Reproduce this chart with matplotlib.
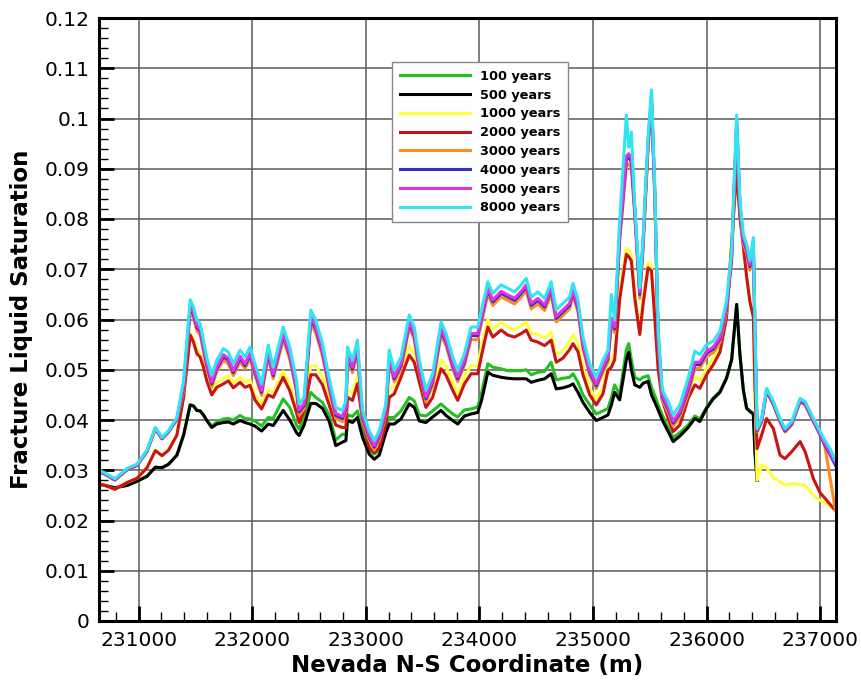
import matplotlib
matplotlib.use('Agg')
import matplotlib.pyplot as plt
from matplotlib.ticker import MultipleLocator, FuncFormatter

plt.rcParams['font.family'] = ['DejaVu Sans']

# Nevada N-S coordinate (m), shared by all curves
x_coord = [230650, 230700, 230790, 230900, 230985, 231073, 231146, 231205, 231263, 231336,
           231395, 231453, 231482, 231512, 231541, 231570, 231599, 231643, 231687, 231746,
           231789, 231833, 231892, 231936, 231980, 232023, 232082, 232140, 232184, 232272,
           232330, 232389, 232412, 232456, 232515, 232559, 232618, 232676, 232735, 232794,
           232824, 232838, 232882, 232926, 232971, 233029, 233074, 233118, 233176, 233206,
           233250, 233309, 233382, 233426, 233471, 233529, 233588, 233662, 233706, 233765,
           233809, 233868, 233926, 233985, 234020, 234074, 234118, 234191, 234250, 234309,
           234368, 234412, 234456, 234515, 234574, 234632, 234676, 234735, 234794, 234824,
           234868, 234912, 234971, 235029, 235088, 235132, 235162, 235191, 235235, 235294,
           235315, 235338, 235368, 235412, 235441, 235485, 235515, 235545, 235574, 235610,
           235662, 235706, 235765, 235838, 235897, 235941, 236000, 236059, 236118, 236176,
           236221, 236265, 236294, 236324, 236353, 236382, 236412, 236426, 236445, 236485,
           236529, 236588, 236647, 236691, 236750, 236824, 236868, 236941, 237000, 237040,
           237088, 237135]

# saturation values, in units of 1e-3
sat_100 = [27.2, 27.0, 26.5, 27.0, 27.8, 28.8, 30.6, 30.5, 31.2, 33.0,
           37.0, 43.0, 42.8, 41.9, 41.8, 41.0, 39.9, 38.8, 39.6, 40.2,
           40.3, 40.0, 40.9, 40.3, 40.2, 39.8, 38.8, 40.5, 40.3, 44.2,
           42.5, 39.0, 38.2, 40.5, 45.5, 44.5, 43.5, 41.0, 36.0, 37.2,
           37.0, 41.0, 40.7, 41.8, 37.5, 34.0, 33.2, 34.0, 38.5, 40.5,
           40.5, 41.8, 44.5, 43.8, 41.0, 40.8, 41.8, 43.2, 42.3, 41.2,
           40.6, 42.0, 42.2, 42.6, 45.5, 51.2, 50.5, 50.2, 49.8, 49.8,
           49.8, 50.0, 49.0, 49.5, 49.7, 51.5, 48.0, 48.3, 48.5, 49.2,
           47.5, 45.0, 43.0, 41.2, 41.8, 42.3, 44.5, 47.0, 45.0, 54.0,
           55.2, 52.0, 48.5, 48.0, 48.5, 48.8, 46.5, 44.8, 43.0, 41.0,
           38.5, 36.5, 37.5, 39.0, 40.8, 40.2, 42.5, 44.4, 45.7, 48.4,
           52.0, 63.0, 53.0, 46.0, 42.4, 41.8, 41.3, 33.8, 28.0]

sat_500 = [27.2, 27.0, 26.5, 27.0, 27.8, 28.8, 30.6, 30.5, 31.2, 33.0,
           37.0, 43.0, 42.8, 41.9, 41.8, 41.0, 39.9, 38.5, 39.2, 39.5,
           39.6, 39.2, 39.9, 39.5, 39.2, 38.8, 37.8, 39.2, 38.9, 41.9,
           40.0, 37.5, 36.9, 39.0, 43.3, 43.3, 42.3, 39.8, 34.9, 35.6,
           35.9, 39.9, 39.5, 40.5, 36.5, 33.2, 32.2, 33.0, 37.5, 39.2,
           39.2, 40.2, 43.2, 42.5, 39.8, 39.5, 40.6, 41.9, 40.9, 39.9,
           39.2, 40.8, 41.2, 41.5, 44.0, 49.5, 48.9, 48.5, 48.3, 48.2,
           48.2, 48.2, 47.5, 47.9, 48.2, 49.2, 46.2, 46.4, 46.8, 47.2,
           45.5, 43.5, 41.5, 39.9, 40.5, 41.0, 43.0, 45.5, 44.0, 52.0,
           53.5, 50.0, 47.0, 46.5, 47.3, 47.7, 45.0, 43.5, 42.0, 40.0,
           37.7, 35.7, 36.8, 38.5, 40.3, 39.7, 42.3, 44.2, 45.5, 48.3,
           52.0, 63.0, 53.0, 46.0, 42.3, 41.7, 41.2, 33.7, 28.0]

sat_1000 = [27.3, 27.0, 26.2, 27.6, 28.4, 30.5, 34.0, 33.0, 34.1, 37.2,
            44.8, 57.3, 56.0, 53.8, 53.2, 51.2, 48.6, 45.9, 47.5, 48.2,
            48.8, 47.4, 48.5, 47.5, 47.9, 45.0, 43.2, 46.0, 45.5, 49.7,
            47.0, 42.7, 40.6, 43.0, 50.8, 50.8, 48.6, 44.4, 40.2, 39.7,
            39.8, 46.0, 45.3, 48.8, 41.2, 35.6, 34.5, 35.6, 40.5, 46.0,
            46.8, 50.0, 54.8, 53.2, 49.0, 43.8, 46.0, 52.0, 50.6, 47.3,
            45.2, 48.7, 50.8, 50.8, 54.8, 60.0, 58.0, 59.5, 58.4, 58.0,
            58.8, 59.5, 57.3, 57.0, 56.3, 57.5, 53.0, 53.8, 55.6, 57.0,
            55.2, 50.5, 46.3, 44.2, 46.5, 51.2, 52.0, 53.5, 65.5, 74.2,
            73.7, 72.8, 65.5, 58.0, 64.2, 71.3, 70.7, 61.0, 51.0, 45.0,
            41.3, 38.8, 40.2, 45.8, 48.5, 47.8, 50.3, 52.2, 54.5, 61.0,
            75.5, 89.9, 80.6, 74.8, 68.8, 63.8, 60.8, 45.0, 28.0, 31.0,
            30.5, 28.5, 27.7, 27.0, 27.3, 27.2, 27.0, 25.0, 24.0, 23.5,
            22.8, 22.0]

sat_2000 = [27.3, 27.0, 26.2, 27.6, 28.4, 30.5, 33.9, 32.9, 34.0, 37.0,
            44.5, 56.9, 55.5, 53.2, 52.5, 50.5, 47.8, 45.0, 46.5, 47.2,
            47.8, 46.4, 47.5, 46.5, 46.9, 44.0, 42.2, 45.0, 44.5, 48.5,
            45.8, 41.5, 39.5, 41.8, 49.0, 49.0, 47.0, 43.0, 39.0, 38.5,
            38.5, 44.5, 43.9, 47.2, 39.9, 34.5, 33.5, 34.5, 39.2, 44.5,
            45.2, 48.5, 52.9, 51.5, 47.5, 42.5, 44.5, 50.2, 48.9, 45.9,
            43.9, 47.2, 49.2, 49.2, 53.0, 58.5, 56.5, 57.9, 56.9, 56.5,
            57.2, 57.9, 55.9, 55.5, 54.8, 55.9, 51.5, 52.3, 54.0, 55.2,
            53.6, 49.0, 45.0, 43.0, 45.2, 49.9, 50.5, 52.0, 64.0, 73.0,
            72.5, 71.7, 64.3, 57.0, 63.0, 70.3, 69.7, 60.0, 50.0, 44.0,
            40.3, 37.7, 39.0, 44.3, 47.0, 46.3, 49.0, 51.0, 53.5, 60.3,
            75.0, 89.7, 80.3, 74.5, 68.5, 63.5, 60.5, 47.0, 34.3, 37.0,
            40.3, 38.3, 33.0, 32.3, 33.7, 35.7, 33.7, 28.3, 25.5, 24.5,
            23.2, 22.0]

sat_3000 = [29.7, 29.2, 28.0, 30.1, 30.9, 33.7, 38.2, 36.2, 37.6, 40.0,
            45.8, 61.8, 60.3, 57.7, 57.0, 53.7, 50.3, 46.6, 49.6, 51.9,
            51.2, 48.8, 51.6, 50.2, 52.2, 48.9, 44.9, 52.6, 48.2, 56.0,
            52.1, 45.6, 41.0, 42.2, 59.3, 57.3, 52.8, 46.2, 40.3, 39.7,
            41.6, 51.8, 49.4, 53.3, 39.8, 36.0, 34.0, 36.0, 41.0, 51.5,
            47.6, 50.2, 58.3, 56.0, 49.6, 43.6, 46.9, 56.9, 54.8, 50.2,
            47.6, 50.9, 56.0, 56.0, 59.5, 65.0, 62.8, 64.5, 63.8, 63.1,
            64.5, 65.7, 62.1, 63.1, 61.8, 65.0, 59.5, 60.8, 62.1, 64.7,
            61.5, 54.2, 48.9, 46.2, 49.6, 51.6, 58.7, 57.4, 75.5, 90.5,
            91.0, 90.2, 80.5, 64.2, 74.0, 94.0, 103.0, 83.5, 55.5, 44.0,
            41.5, 38.8, 40.6, 45.2, 50.2, 50.3, 52.6, 53.4, 55.4, 61.4,
            71.6, 98.0, 81.8, 75.1, 73.1, 69.8, 74.4, 57.1, 37.6, 39.6,
            45.6, 43.0, 39.6, 37.6, 39.0, 43.6, 43.0, 39.6, 37.3, 35.0,
            28.5, 22.0]

sat_4000 = [29.8, 29.3, 28.1, 30.2, 31.0, 33.8, 38.3, 36.3, 37.7, 40.2,
            46.5, 62.4, 61.0, 58.4, 57.7, 54.4, 51.0, 47.2, 50.2, 52.6,
            51.9, 49.4, 52.3, 50.8, 52.9, 49.5, 45.5, 53.3, 48.8, 56.8,
            52.8, 46.2, 41.6, 42.9, 60.1, 58.1, 53.5, 46.8, 40.9, 40.3,
            42.2, 52.6, 50.1, 54.1, 40.4, 36.6, 34.6, 36.6, 41.6, 52.2,
            48.2, 50.8, 59.1, 56.8, 50.2, 44.2, 47.5, 57.7, 55.5, 50.8,
            48.2, 51.5, 56.8, 56.8, 60.3, 65.8, 63.5, 65.2, 64.5, 63.8,
            65.2, 66.5, 62.8, 63.8, 62.5, 65.8, 60.2, 61.5, 62.8, 65.5,
            62.2, 54.8, 49.5, 46.8, 50.2, 52.2, 59.8, 58.1, 76.5, 91.8,
            92.3, 91.3, 81.5, 65.0, 75.0, 94.8, 104.0, 84.5, 56.5, 44.6,
            42.1, 39.4, 41.3, 46.0, 51.0, 51.0, 53.3, 54.1, 56.1, 62.1,
            72.3, 99.0, 82.5, 75.8, 73.8, 70.5, 75.1, 57.8, 37.8, 39.8,
            45.8, 43.2, 39.8, 37.8, 39.2, 43.8, 43.2, 39.8, 37.0, 35.1,
            33.1, 31.0]

sat_5000 = [29.9, 29.4, 28.2, 30.3, 31.1, 33.9, 38.4, 36.4, 37.8, 40.3,
            46.9, 62.8, 61.4, 58.8, 58.1, 54.8, 51.4, 47.6, 50.6, 53.0,
            52.3, 49.8, 52.7, 51.2, 53.3, 49.9, 45.9, 53.7, 49.2, 57.2,
            53.2, 46.6, 42.0, 43.3, 60.5, 58.5, 53.9, 47.2, 41.3, 40.7,
            42.6, 53.0, 50.5, 54.5, 40.8, 36.9, 34.9, 36.9, 42.0, 52.6,
            48.6, 51.2, 59.5, 57.2, 50.6, 44.6, 47.9, 58.1, 55.9, 51.2,
            48.6, 51.9, 57.2, 57.2, 60.7, 66.2, 63.9, 65.6, 64.9, 64.2,
            65.6, 66.9, 63.2, 64.2, 62.9, 66.2, 60.6, 61.9, 63.2, 65.9,
            62.6, 55.2, 49.9, 47.2, 50.6, 52.6, 60.3, 58.5, 77.0, 92.5,
            93.0, 92.0, 82.0, 65.5, 75.5, 95.3, 104.5, 85.0, 57.0, 45.0,
            42.5, 39.8, 41.7, 46.5, 51.5, 51.5, 53.7, 54.5, 56.5, 62.5,
            72.7, 99.5, 82.9, 76.2, 74.2, 70.9, 75.5, 58.2, 38.0, 40.0,
            46.0, 43.4, 40.0, 38.0, 39.4, 44.0, 43.4, 40.0, 37.2, 35.4,
            33.5, 31.5]

sat_8000 = [30.0, 29.5, 28.3, 30.4, 31.2, 34.0, 38.5, 36.5, 37.9, 40.5,
            47.9, 63.9, 62.5, 59.9, 59.2, 55.9, 52.5, 48.9, 51.9, 54.2,
            53.5, 51.2, 53.9, 52.5, 54.5, 51.2, 47.2, 54.9, 50.5, 58.5,
            54.5, 47.9, 43.2, 44.5, 61.9, 59.9, 55.2, 48.5, 42.5, 41.9,
            43.9, 54.5, 51.9, 55.9, 41.9, 37.9, 35.9, 37.9, 43.2, 53.9,
            49.9, 52.5, 60.9, 58.5, 51.9, 45.9, 49.2, 59.5, 57.2, 52.5,
            49.9, 53.2, 58.5, 58.5, 62.0, 67.5, 65.2, 66.9, 66.2, 65.5,
            66.9, 68.2, 64.5, 65.5, 64.2, 67.5, 61.9, 63.2, 64.5, 67.2,
            63.9, 56.5, 51.2, 48.5, 51.9, 53.9, 65.0, 59.9, 79.7, 100.7,
            94.3, 97.3, 83.0, 66.3, 76.3, 96.3, 105.7, 86.0, 58.0, 46.0,
            43.7, 41.0, 43.0, 48.3, 53.7, 53.0, 55.0, 55.7, 57.7, 63.7,
            73.7, 100.7, 83.7, 77.0, 75.0, 71.7, 76.3, 59.0, 38.3, 40.3,
            46.3, 43.7, 40.3, 38.3, 39.7, 44.3, 43.7, 40.3, 37.7, 36.0,
            34.3, 32.0]

labels = ['100 years', '500 years', '1000 years', '2000 years',
          '3000 years', '4000 years', '5000 years', '8000 years']
series = [sat_100, sat_500, sat_1000, sat_2000, sat_3000, sat_4000, sat_5000, sat_8000]
colors = ['#22c022', '#000000', '#ffff40', '#c81414', '#ff8a1e', '#3232c8', '#e632e6', '#30e4f0']

fig = plt.figure(figsize=(8.62, 6.82), dpi=100)
# axes box: x 99..836 px, y 18..621 px
ax = fig.add_axes([99 / 862, 61 / 682, 737 / 862, 603 / 682])

for vals, lab, col in zip(series, labels, colors):
    xs = x_coord[:len(vals)]
    ax.plot(xs, [v / 1000 for v in vals], color=col, lw=2.2, label=lab)

ax.set_xlim(230650, 237140)
ax.set_ylim(0, 0.12)
ax.xaxis.set_major_locator(MultipleLocator(1000))
ax.xaxis.set_minor_locator(MultipleLocator(200))
ax.yaxis.set_major_locator(MultipleLocator(0.01))
ax.yaxis.set_minor_locator(MultipleLocator(0.002))
ax.yaxis.set_major_formatter(FuncFormatter(lambda v, p: '%g' % round(v, 3)))
ax.xaxis.set_major_formatter(FuncFormatter(lambda v, p: '%d' % v))

ax.grid(True, which='major', color='#5a5a5a', lw=1.1)
ax.set_axisbelow(True)
ax.tick_params(which='major', direction='in', length=11, width=2.0, labelsize=14.5, pad=7)
ax.tick_params(which='minor', direction='in', length=6.5, width=1.0)
for s in ax.spines.values():
    s.set_linewidth(2.2)

ax.set_xlabel('Nevada N-S Coordinate (m)', fontsize=16.5, fontweight='bold', labelpad=3)
ax.set_ylabel('Fracture Liquid Saturation', fontsize=16.5, fontweight='bold', labelpad=8)

leg = ax.legend(loc='upper left', bbox_to_anchor=(0.3976, 0.927), borderaxespad=0,
                fancybox=False, edgecolor='#888888', framealpha=1, handlelength=5.4,
                handletextpad=0.8, labelspacing=0.45, borderpad=0.6,
                prop={'weight': 'bold', 'size': 9.3})
leg.get_frame().set_linewidth(1.0)

fig.savefig('out.png', dpi=100)
